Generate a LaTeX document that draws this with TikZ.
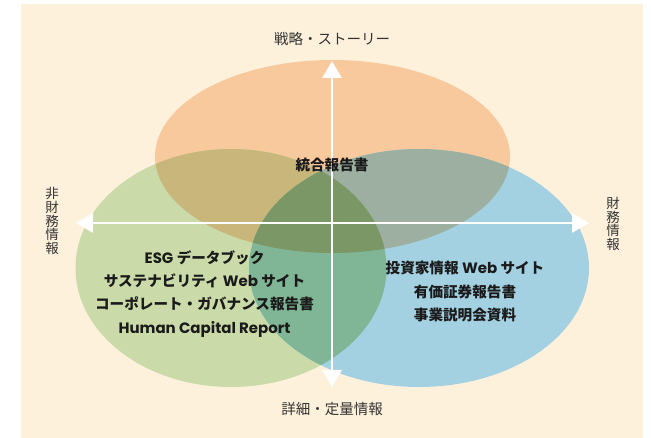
\documentclass[tikz,border=0pt]{standalone}
\usepackage{fontspec}
\setmainfont{Noto Sans CJK JP}
\newfontfamily\lat{Poppins}
\usetikzlibrary{arrows.meta}
\definecolor{bgc}{HTML}{FDF1DC}
\definecolor{oc}{HTML}{F8C99D}
\definecolor{gc}{HTML}{CADBA9}
\definecolor{bc}{HTML}{A3D1E1}
\definecolor{ogc}{HTML}{C9B67B}
\definecolor{obc}{HTML}{9DAFA0}
\definecolor{gbc}{HTML}{80B596}
\definecolor{allc}{HTML}{7B9766}
\definecolor{lblc}{HTML}{333333}
\definecolor{txtc}{HTML}{1A1A1A}
\tikzset{
  axislbl/.style={font=\fontsize{14.5}{16}\selectfont, text=lblc, inner sep=0pt},
  vlbl/.style={font=\fontsize{13.5}{13.8}\selectfont, text=lblc, inner sep=0pt, align=center},
  mainlbl/.style={font=\bfseries\fontsize{14.6}{23.4}\selectfont, text=txtc, inner sep=0pt, align=center},
  axis/.style={draw=white, line width=2.8pt, {Triangle[width=19pt,length=17pt]}-{Triangle[width=19pt,length=17pt]}}
}
\newcommand{\lt}[1]{{\lat\fontsize{15}{23.4}\selectfont #1}}
\begin{document}
\begin{tikzpicture}[x=1pt,y=-1pt]
\useasboundingbox (0,0) rectangle (651,438);
\fill[bgc] (21,4) rectangle (643,438);
% ellipses
\def\Oel{(332.5,156.5) ellipse [x radius=177.5, y radius=96.5]}
\def\Gel{(231,268) ellipse [x radius=155.5, y radius=119]}
\def\Bel{(419,268) ellipse [x radius=170, y radius=119]}
\fill[oc] \Oel;
\fill[gc] \Gel;
\fill[bc] \Bel;
\begin{scope}
  \clip \Oel;
  \fill[ogc] \Gel;
  \fill[obc] \Bel;
\end{scope}
\begin{scope}
  \clip \Gel;
  \fill[gbc] \Bel;
  \clip \Bel;
  \fill[allc] \Oel;
\end{scope}
% axes
\coordinate (T) at (332,61);
\coordinate (Bt) at (332,387);
\coordinate (L) at (76,223);
\coordinate (R) at (589,223);
\draw[axis] (L) -- (R);
\draw[axis] (Bt) -- (T);
% labels
\node[axislbl] (top) at (332,39) {戦略・ストーリー};
\node[axislbl] (bot) at (332,409) {詳細・定量情報};
\node[vlbl] (left) at (52,221) {非\\財\\務\\情\\報};
\node[vlbl] (right) at (613,224) {財\\務\\情\\報};
\node[mainlbl] (ir) at (332,165) {統合報告書};
\node[mainlbl, anchor=north] (gl) at (204.5,250) {\lt{ESG} データブック\\サステナビリティ \lt{Web} サイト\\コーポレート・ガバナンス報告書\\\lt{Human Capital Report}};
\node[mainlbl, anchor=north] (bl) at (465,261) {投資家情報 \lt{Web} サイト\\有価証券報告書\\事業説明会資料};
\end{tikzpicture}
\end{document}
